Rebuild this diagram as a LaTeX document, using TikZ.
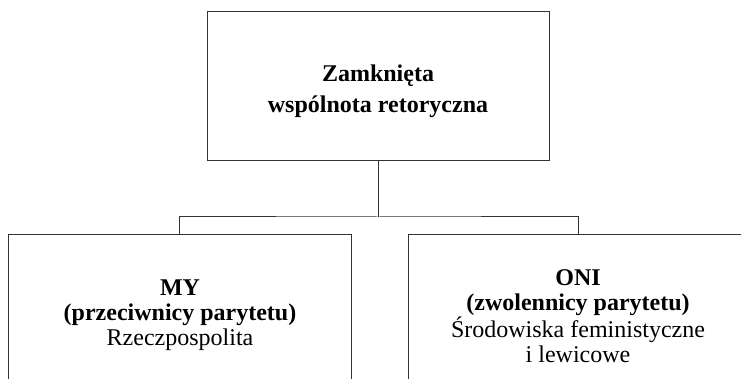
\documentclass[tikz,border=0pt]{standalone}
\usepackage{fontspec}
\setmainfont{Liberation Serif}
\usetikzlibrary{backgrounds}
\pgfdeclarelayer{edgelayer}
\pgfdeclarelayer{nodelayer}
\pgfsetlayers{edgelayer,nodelayer,main}
\tikzstyle{none}=[inner sep=0pt]
\tikzstyle{box}=[rectangle,fill=white,draw=black!80,line width=1.0,inner sep=0pt]
\tikzstyle{boxtext}=[inner sep=0pt,align=center,anchor=base,font=\fontsize{24}{25}\selectfont]
\tikzstyle{connector}=[-,draw=black!80,line width=1.0]

\begin{document}
\begin{tikzpicture}[x=1pt,y=-1pt]
	\useasboundingbox (0,0) rectangle (741,379);
	\clip (0,0) rectangle (741,379);
	\begin{pgfonlayer}{nodelayer}
		\node [style=box, minimum width=342pt, minimum height=149pt] (0) at (378, 86.5) {};
		\node [style=box, minimum width=343pt, minimum height=200pt] (1) at (179.5, 335) {};
		\node [style=box, minimum width=340pt, minimum height=200pt] (2) at (578, 335) {};
		\node [style=none] (3) at (378, 217) {};
		\node [style=boxtext, font=\bfseries\fontsize{24}{31}\selectfont] (4) at (378, 113) {Zamknięta\\wspólnota retoryczna};
		\node [style=boxtext] (5) at (180, 345) {\textbf{MY}\\\textbf{(przeciwnicy parytetu)}\\Rzeczpospolita};
		\node [style=boxtext] (6) at (578, 362) {\textbf{ONI}\\\textbf{(zwolennicy parytetu)}\\Środowiska feministyczne\\i lewicowe};
	\end{pgfonlayer}
	\begin{pgfonlayer}{edgelayer}
		\draw [style=connector] (0) to (3.center);
		\draw [style=connector] (1.north) |- (3.center) -| (2.north);
	\end{pgfonlayer}
\end{tikzpicture}
\end{document}
